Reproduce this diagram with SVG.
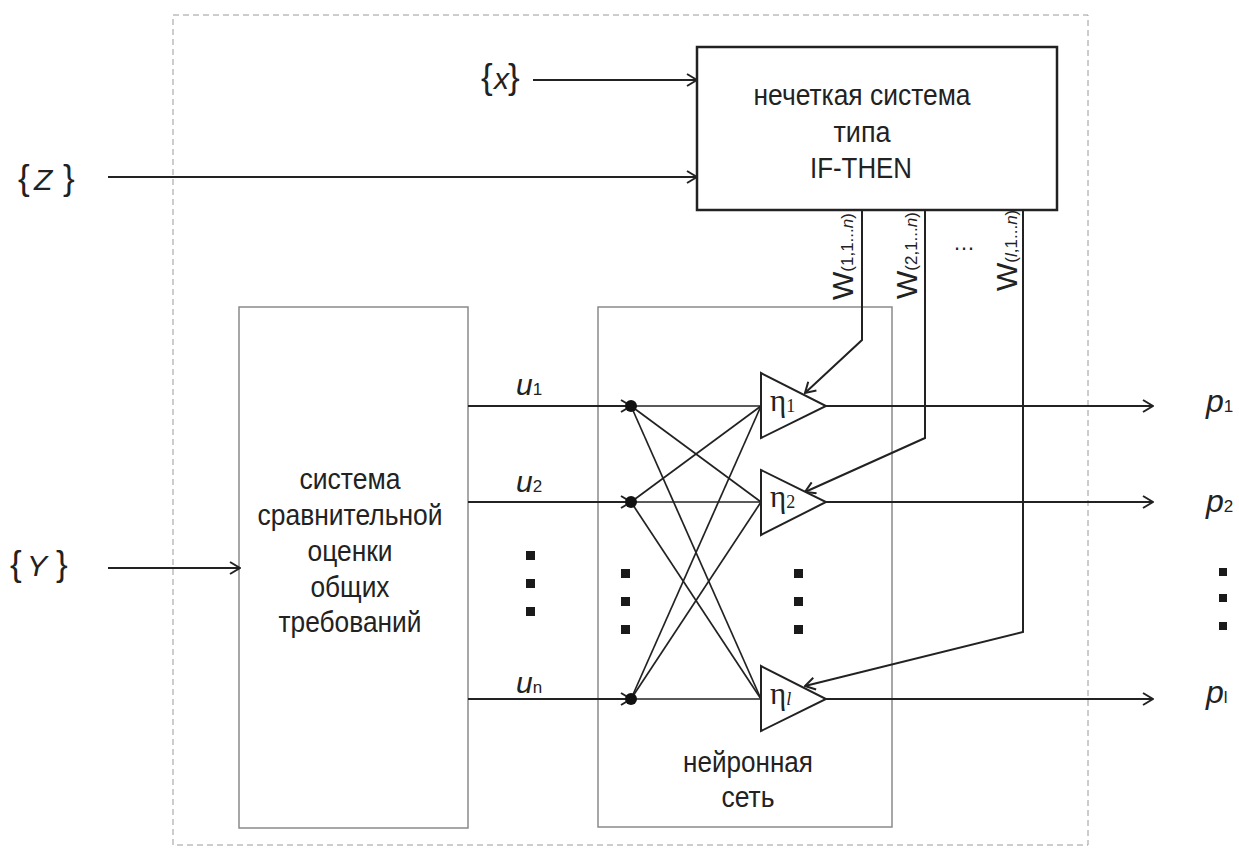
<svg xmlns="http://www.w3.org/2000/svg" width="1239" height="856" viewBox="0 0 1239 856">
  <style>
    .t { font-family: "Liberation Sans", Arial, sans-serif; fill: #222; }
    .box { font-size: 29px; text-anchor: middle; }
    .var { font-size: 30px; font-style: italic; }
    .br { font-size: 35px; font-style: normal; }
    .sub { font-size: 17px; font-style: normal; }
    .eta { font-family: "Liberation Serif", "Times New Roman", serif; fill: #222; font-size: 31px; }
    .etasub { font-size: 18px; }
    .wire { fill: none; stroke: #222; stroke-width: 2; }
    .thin { fill: none; stroke: #222; stroke-width: 1.7; }
    .frame { fill: none; stroke: #8a8a8a; stroke-width: 1.5; }
    .sq { fill: #1a1a1a; }
  </style>
  <defs>
    <marker id="arr" viewBox="-11 -7 12 14" refX="0" refY="0" markerWidth="12" markerHeight="14" markerUnits="userSpaceOnUse" orient="auto">
      <path d="M-10,-6 L0,0 L-10,6" fill="none" stroke="#222" stroke-width="2"/>
    </marker>
  </defs>
  <rect width="1239" height="856" fill="#fff"/>

  <!-- outer dashed boundary -->
  <rect id="boundary" x="173" y="15" width="915" height="830" fill="none" stroke="#9a9a9a" stroke-width="1" stroke-dasharray="6,4"/>

  <!-- fuzzy IF-THEN system -->
  <g id="fuzzy">
    <rect x="697" y="47" width="360" height="163" fill="#fff" stroke="#222" stroke-width="2.5"/>
    <text class="t box" x="862" y="105" textLength="217" lengthAdjust="spacingAndGlyphs">нечеткая система</text>
    <text class="t box" x="862" y="142" textLength="57" lengthAdjust="spacingAndGlyphs">типа</text>
    <text class="t box" x="861" y="178" textLength="102" lengthAdjust="spacingAndGlyphs">IF-THEN</text>
  </g>

  <!-- comparative evaluation block -->
  <g id="evaluation">
    <rect class="frame" x="239" y="307" width="229" height="521"/>
    <text class="t box" x="350" y="489" textLength="101" lengthAdjust="spacingAndGlyphs">система</text>
    <text class="t box" x="350" y="525" textLength="185" lengthAdjust="spacingAndGlyphs">сравнительной</text>
    <text class="t box" x="350" y="561" textLength="85" lengthAdjust="spacingAndGlyphs">оценки</text>
    <text class="t box" x="350" y="597" textLength="79" lengthAdjust="spacingAndGlyphs">общих</text>
    <text class="t box" x="350" y="632" textLength="143" lengthAdjust="spacingAndGlyphs">требований</text>
  </g>

  <!-- neural network block -->
  <g id="network">
    <rect class="frame" x="598" y="307" width="294" height="520"/>
    <text class="t box" x="748" y="772" textLength="130" lengthAdjust="spacingAndGlyphs">нейронная</text>
    <text class="t box" x="748" y="807" textLength="53" lengthAdjust="spacingAndGlyphs">сеть</text>
  </g>

  <!-- connectors -->
  <g id="connectors">
    <!-- inputs -->
    <line class="wire" x1="533" y1="80" x2="697" y2="80" marker-end="url(#arr)"/>
    <line class="wire" x1="108" y1="177" x2="697" y2="177" marker-end="url(#arr)"/>
    <line class="wire" x1="108" y1="568" x2="240" y2="568" marker-end="url(#arr)"/>
    <!-- u signals -->
    <line class="wire" x1="468" y1="406" x2="631" y2="406" marker-end="url(#arr)"/>
    <line class="wire" x1="468" y1="502" x2="631" y2="502" marker-end="url(#arr)"/>
    <line class="wire" x1="468" y1="699" x2="631" y2="699" marker-end="url(#arr)"/>
    <!-- full interconnection -->
    <line class="thin" x1="631" y1="406" x2="761" y2="406"/>
    <line class="thin" x1="631" y1="406" x2="761" y2="502"/>
    <line class="thin" x1="631" y1="406" x2="761" y2="699"/>
    <line class="thin" x1="631" y1="502" x2="761" y2="406"/>
    <line class="thin" x1="631" y1="502" x2="761" y2="502"/>
    <line class="thin" x1="631" y1="502" x2="761" y2="699"/>
    <line class="thin" x1="631" y1="699" x2="761" y2="406"/>
    <line class="thin" x1="631" y1="699" x2="761" y2="502"/>
    <line class="thin" x1="631" y1="699" x2="761" y2="699"/>
    <!-- weights -->
    <polyline class="wire" points="862,210 862,340 805,393" marker-end="url(#arr)"/>
    <polyline class="wire" points="925,210 925,438 805,492" marker-end="url(#arr)"/>
    <polyline class="wire" points="1023,210 1023,632 805,686" marker-end="url(#arr)"/>
    <!-- outputs -->
    <line class="wire" x1="826" y1="406" x2="1153" y2="406" marker-end="url(#arr)"/>
    <line class="wire" x1="826" y1="502" x2="1153" y2="502" marker-end="url(#arr)"/>
    <line class="wire" x1="826" y1="699" x2="1153" y2="699" marker-end="url(#arr)"/>
  </g>

  <!-- branch points -->
  <g id="nodes-in">
    <circle cx="631" cy="406" r="6" fill="#111"/>
    <circle cx="631" cy="502" r="6" fill="#111"/>
    <circle cx="631" cy="699" r="6" fill="#111"/>
  </g>

  <!-- neurons -->
  <g id="neuron-1">
    <polygon points="761,373 761,438 826,406" fill="#fff" stroke="#222" stroke-width="2"/>
    <text class="eta" x="770" y="411">η<tspan class="etasub" dy="1">1</tspan></text>
  </g>
  <g id="neuron-2">
    <polygon points="761,470 761,535 826,502" fill="#fff" stroke="#222" stroke-width="2"/>
    <text class="eta" x="770" y="507">η<tspan class="etasub" dy="1">2</tspan></text>
  </g>
  <g id="neuron-l">
    <polygon points="761,666 761,731 826,699" fill="#fff" stroke="#222" stroke-width="2"/>
    <text class="eta" x="770" y="704">η<tspan class="etasub" dy="1" font-style="italic">l</tspan></text>
  </g>

  <!-- input labels -->
  <g id="labels-in">
    <text class="t" y="89"><tspan class="br" x="481">{</tspan><tspan class="var" x="494">x</tspan><tspan class="br" x="508">}</tspan></text>
    <text class="t" y="190"><tspan class="br" x="18">{</tspan><tspan class="var" x="34">Z</tspan><tspan class="br" x="63">}</tspan></text>
    <text class="t" y="576"><tspan class="br" x="10">{</tspan><tspan class="var" x="27">Y</tspan><tspan class="br" x="56">}</tspan></text>
  </g>

  <!-- u labels -->
  <g id="labels-u">
    <text class="t var" x="516" y="395">u<tspan class="sub">1</tspan></text>
    <text class="t var" x="516" y="492">u<tspan class="sub">2</tspan></text>
    <text class="t var" x="516" y="693">u<tspan class="sub">n</tspan></text>
  </g>

  <!-- weight labels -->
  <g id="labels-w">
    <text class="t" transform="translate(853,300) rotate(-90)"><tspan font-size="30">W</tspan><tspan font-size="17">(1,1...<tspan font-style="italic">n</tspan>)</tspan></text>
    <text class="t" transform="translate(917,299) rotate(-90)"><tspan font-size="30">W</tspan><tspan font-size="17">(2,1...<tspan font-style="italic">n</tspan>)</tspan></text>
    <text class="t" transform="translate(1017,291) rotate(-90)"><tspan font-size="30">W</tspan><tspan font-size="17">(<tspan font-style="italic">l</tspan>,1...<tspan font-style="italic">n</tspan>)</tspan></text>
    <text class="t" x="964" y="250" font-size="22" text-anchor="middle">…</text>
  </g>

  <!-- output labels -->
  <g id="labels-p">
    <text class="t" x="1206" y="412"><tspan font-size="32" font-style="italic">p</tspan><tspan class="sub">1</tspan></text>
    <text class="t" x="1206" y="512"><tspan font-size="32" font-style="italic">p</tspan><tspan class="sub">2</tspan></text>
    <text class="t" x="1206" y="703"><tspan font-size="32" font-style="italic">p</tspan><tspan class="sub" font-style="italic">l</tspan></text>
  </g>

  <!-- ellipsis marks -->
  <g id="ellipses">
    <rect class="sq" x="526" y="551" width="9" height="9"/>
    <rect class="sq" x="526" y="579" width="9" height="9"/>
    <rect class="sq" x="526" y="607" width="9" height="9"/>
    <rect class="sq" x="621" y="569" width="9" height="9"/>
    <rect class="sq" x="621" y="597" width="9" height="9"/>
    <rect class="sq" x="621" y="625" width="9" height="9"/>
    <rect class="sq" x="794" y="569" width="9" height="9"/>
    <rect class="sq" x="794" y="597" width="9" height="9"/>
    <rect class="sq" x="794" y="625" width="9" height="9"/>
    <rect class="sq" x="1219" y="568" width="8" height="8"/>
    <rect class="sq" x="1219" y="594" width="8" height="8"/>
    <rect class="sq" x="1219" y="622" width="8" height="8"/>
  </g>
</svg>
